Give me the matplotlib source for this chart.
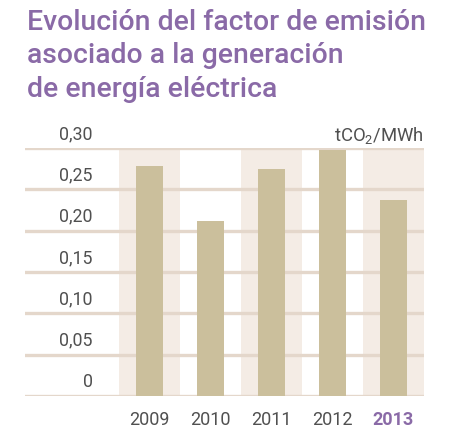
import matplotlib
matplotlib.use("Agg")
import matplotlib.pyplot as plt

plt.rcParams['font.family'] = ['Roboto', 'DejaVu Sans']
plt.rcParams['mathtext.fontset'] = 'custom'
plt.rcParams['mathtext.rm'] = 'Roboto'
plt.rcParams['mathtext.it'] = 'Roboto'

years = ["2009", "2010", "2011", "2012", "2013"]
factor = [0.278, 0.212, 0.274, 0.297, 0.237]
yticks = [0, 0.05, 0.10, 0.15, 0.20, 0.25, 0.30]
ytick_labels = ["0", "0,05", "0,10", "0,15", "0,20", "0,25", "0,30"]
title_lines = ["Evolución del factor de emisión",
               "asociado a la generación",
               "de energía eléctrica"]
unit = "tCO$_2$/MWh"

purple = "#8a6aa7"
bar_col = "#cbbf9c"
band_col = "#f4ece5"
grid_col = "#e4d7cb"
text_col = "#505050"

W, H = 450, 442
fig = plt.figure(figsize=(W / 100, H / 100), dpi=100)
ax = fig.add_axes([25 / W, 1 - 396 / H, (424 - 25) / W, (396 - 148) / H])

x = list(range(len(years)))
ax.set_xlim(-2.04, 4.5)
ax.set_ylim(0, 0.30)

# alternating background bands
for i in x:
    if i % 2 == 0:
        ax.axvspan(i - 0.5, i + 0.5, color=band_col, zorder=0, lw=0)

for v in yticks:
    ax.axhline(v, color=grid_col, lw=2.4, zorder=1)

ax.bar(x, factor, width=0.45, color=bar_col, zorder=2, lw=0)

for v, lab in zip(yticks, ytick_labels):
    ax.text(-0.93, v + 0.006, lab, ha='right', va='bottom',
            fontsize=12.8, color=text_col)

for i, y in zip(x, years):
    last = (i == len(years) - 1)
    ax.text(i, -0.029, y, ha='center', va='center', fontsize=13,
            color=purple if last else text_col,
            fontweight='bold' if last else 'normal')

ax.text(4.5, 0.308, unit, ha='right', va='baseline', fontsize=13.3,
        color=text_col)

ax.axis('off')

for k, line in enumerate(title_lines):
    fig.text(27 / W, 1 - (30 + 33.5 * k) / H, line, ha='left',
             va='baseline', fontsize=20.4, color=purple, fontweight='medium')

fig.savefig("out.png", dpi=100)
